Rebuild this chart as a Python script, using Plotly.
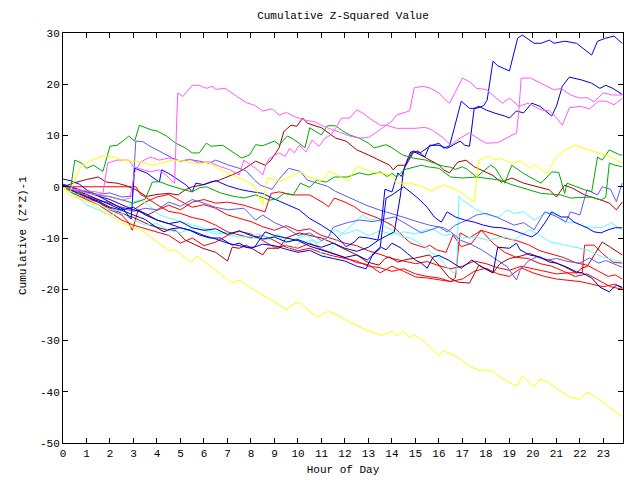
import plotly.graph_objects as go

# ---- data: (hour, cumulative value) pairs ----
hour_ticks = list(range(24))
y_ticks = [-50, -40, -30, -20, -10, 0, 10, 20, 30]

yellow_low = [(0,0),(0.3,-1.6),(1.2,-3.2),(2.5,-7.1),(3.35,-8.5),(4.5,-12.5),(4.75,-12.3),(5.45,-14.7),(5.7,-13.5),(7.2,-18.8),(7.5,-18.2),(7.95,-19.6),(9.5,-23.9),(10,-22.5),(10.8,-25.4),(11.3,-24.3),(11.8,-25.3),(12.1,-26.2),(12.95,-28),(13.55,-29),(14.0,-28.2),(14.2,-29.1),(14.5,-28.2),(14.7,-29.3),(15.0,-29),(15.4,-30.3),(16.0,-32.9),(16.2,-32),(16.7,-33),(17.3,-35),(17.7,-35.8),(18.2,-35.8),(18.8,-37.7),(19.3,-38.9),(19.55,-36.9),(20.05,-39.1),(20.3,-37.5),(20.7,-38.3),(21.5,-40.9),(22.0,-41.5),(22.3,-40),(22.75,-41.3),(23.8,-44.9)]

yellow_up = [(0,0),(0.3,-1),(0.7,3.6),(1.13,5),(1.7,6),(2.2,5.8),(2.5,5.2),(2.9,5),(3.4,4.8),(3.8,4.2),(4.2,4.6),(4.7,5.2),(5.2,5),(5.7,4.4),(6.2,4.8),(6.7,3.3),(7.2,2.3),(7.8,1.1),(8.15,0.1),(8.5,-3.6),(8.7,1.7),(9.3,1.2),(9.7,2),(10.1,3),(10.4,2),(11,1.1),(11.35,3.1),(11.9,1.7),(12.15,1.1),(12.5,4),(12.85,3.4),(13.2,2.8),(13.65,2.6),(13.95,2.3),(14.2,0.7),(14.8,0.7),(15.25,0.1),(15.7,-0.8),(15.9,-0.2),(16.2,0.3),(16.6,-0.3),(17.0,-1.2),(17.2,-2.2),(17.5,-2.9),(17.7,5.2),(18.1,6),(18.4,5.2),(18.6,5.6),(19.1,4.6),(19.5,5),(19.85,3.7),(20.1,4.3),(20.6,2.5),(20.9,5.2),(21.35,7.2),(21.8,8.1),(22.1,7.6),(22.75,6.6),(23.2,6),(23.55,5.2),(23.8,4.6)]

green_a = [(0,0),(0.3,-1),(0.5,5.2),(0.8,4.6),(1.0,3.6),(1.3,4.2),(1.7,3),(2.0,7.9),(2.3,8.1),(2.55,8.9),(2.8,9.9),(3.05,8.9),(3.25,12),(3.5,11.6),(3.75,11.1),(4.0,10.9),(4.4,9.9),(4.8,8.5),(5.2,7.6),(5.5,6.6),(5.8,6.6),(6.1,8.5),(6.3,7.9),(6.8,8.1),(7.1,7.2),(7.6,5.6),(7.94,6.2),(8.2,8.2),(8.5,8.0),(9.0,8.9),(9.2,8.2),(9.55,9.9),(9.8,9.3),(10.3,7.6),(10.5,11.5),(10.8,10.6),(11.0,10.1),(11.25,11.9),(11.6,11.9),(11.9,10.9),(12.2,10.1),(12.6,9.5),(13.0,8.5),(13.25,7.6),(13.75,8.2),(14.0,7.6),(14.45,6.2),(14.9,5.6),(15.45,5.2),(15.8,4.6),(16.2,4.0),(16.5,3.8),(16.7,3.4),(17.0,3.9),(17.2,3.4),(17.6,1.9),(18.2,4.2),(18.4,3.6),(18.8,0.7),(19.1,4.2),(19.6,2.6),(20.1,1.3),(20.35,0.7),(20.8,2.9),(21.1,2.8),(21.35,-1.3),(21.45,0.7),(22.2,-0.6),(22.5,-1),(22.75,5.8),(22.95,5.2),(23.25,7.2),(23.7,6.2),(23.8,6.2)]

green_b = [(0,0),(0.5,-1.5),(1,-0.8),(1.5,-1.6),(2,-1.9),(2.5,-2.6),(3,-3.2),(3.5,-2.4),(3.8,0.9),(4.1,1),(4.5,0.3),(5,-0.4),(5.5,-1),(5.8,-0.2),(6.1,0),(6.7,-1.2),(7.2,-1.8),(7.7,-2.2),(8.2,-1.6),(8.8,-2.6),(9.1,-2.4),(9.4,-1.3),(9.8,-1.6),(10.1,0.7),(10.5,-0.1),(10.8,1.3),(11.2,0.9),(11.55,1.9),(12.1,1.9),(12.6,2.7),(13,2.3),(13.5,2.9),(13.8,2),(14,2.6),(14.2,1.9),(14.5,3.3),(14.9,3.8),(15.25,4.2),(15.5,3.9),(16,3.6),(16.5,1.9),(17,1.7),(17.6,1.9),(18.1,1.6),(18.6,1.3),(19.1,0.4),(19.6,-0.3),(20.35,-1.3),(21.2,-1.6),(21.6,-2.2),(22.5,-2),(22.9,-2.6),(23.1,-2),(23.25,4.6),(23.5,4.2),(23.8,3.9)]

magenta_a = [(0,0),(0.5,-0.5),(1,-0.8),(1.4,-1.0),(1.7,-1.3),(1.9,4.6),(2.3,5.2),(2.8,5.2),(3.0,3.9),(3.4,3.3),(3.7,2.9),(4.1,3.3),(4.4,2.2),(4.75,0.7),(4.88,18.3),(5.1,17.6),(5.3,18.6),(5.5,19.8),(5.8,19.8),(6.1,19.2),(6.35,19.6),(6.5,19.0),(6.9,19.2),(7.2,18.3),(7.5,17.3),(7.8,16.4),(8.15,15.9),(8.5,14.8),(8.9,15.2),(9.2,14.0),(9.5,14.5),(9.9,13.6),(10.3,13),(10.7,12.7),(11.0,12.0),(11.3,11.4),(11.8,10.6),(12.2,9.9),(12.6,9.5),(13.0,9.6),(13.3,10.5),(13.75,12),(14.2,11.4),(14.6,11.4),(15.0,11.4),(15.4,11.6),(15.7,11.1),(16.2,9.5),(16.5,8.1),(16.9,9.5),(17.3,10.5),(17.7,9.3),(18.0,8.5),(18.5,8.6),(18.9,9.5),(19.3,10.5),(19.4,14.8),(19.5,21.2),(19.9,21.2),(20.3,20.2),(20.6,19.6),(20.9,18.9),(21.2,19.2),(21.6,17.9),(22,17.3),(22.3,17.4),(22.6,16.6),(23,18.3),(23.4,17.9),(23.8,17.9)]

magenta_b = [(0,0),(0.5,-0.6),(1,-1.2),(1.5,-1.6),(2,-2.0),(2.5,-2.6),(2.85,-2.2),(3.05,2.8),(3.3,4.8),(3.7,5.8),(4.1,5.2),(4.5,5.6),(5.0,5.0),(5.4,5.4),(5.8,4.6),(6.2,4.9),(6.65,4.0),(7.1,3.3),(7.5,2.3),(7.7,5.2),(8.0,4.2),(8.2,3.6),(8.5,2.3),(8.65,4.5),(8.8,5.6),(9.2,6.6),(9.45,5.9),(9.65,7.5),(9.85,6.6),(10.05,8.1),(10.35,6.8),(10.6,9.1),(10.9,7.9),(11.15,9.5),(11.4,10.1),(11.6,11.4),(11.85,13.4),(12.2,13.4),(12.5,15),(12.75,14.4),(13.1,13.2),(13.5,12),(13.75,12),(14.0,12.8),(14.2,14),(14.5,14.4),(14.75,14.8),(14.95,19.3),(15.3,19.6),(15.6,19.3),(16.0,18.3),(16.2,17.3),(16.45,16.3),(16.7,18.5),(17.0,21.2),(17.3,20.5),(17.6,19.2),(18.0,19.0),(18.4,17.5),(18.7,16.3),(19.0,17.3),(19.4,15.7),(19.8,16.3),(20.35,15),(20.7,14.8),(21.0,13.5),(21.25,12),(21.55,15.4),(22,15.7),(22.4,15.2),(22.8,16.7),(23.1,16.7),(23.45,16),(23.8,17.2)]

blue_top = [(0,1.5),(0.3,1.2),(0.7,0.5),(1,-0.6),(1.5,-1.8),(2.1,-3.2),(2.6,-4.5),(2.8,-5.8),(2.9,-6.3),(3.05,3.6),(3.55,2.7),(4.1,0.9),(4.2,3.3),(4.5,2.6),(4.8,1.7),(5.25,0.3),(5.5,-1),(5.65,0.7),(6.0,0.4),(6.5,1.2),(7.0,0.2),(7.5,-0.5),(7.94,-0.9),(8.5,-1.3),(8.9,-2.2),(9.2,-2.8),(9.6,-3.6),(10.05,-4.5),(10.5,-6.2),(11,-7.5),(11.5,-9),(12.05,-11.7),(12.4,-10.8),(12.6,-9.8),(13,-10),(13.4,-10.4),(13.55,-7.1),(13.7,-0.5),(14,-1.0),(14.25,2.7),(14.4,2.0),(14.65,5),(14.9,7),(15.2,6.6),(15.6,7.9),(16,8.5),(16.2,7.5),(16.45,8.0),(16.65,11.4),(16.95,16.7),(17.3,15.3),(17.6,15.3),(17.9,15.8),(18.05,16.9),(18.3,24.5),(18.5,23.6),(19.0,22.6),(19.1,24.5),(19.35,29),(19.55,29.6),(20.05,28),(20.35,28),(20.7,28.6),(20.9,28),(21.35,28.4),(21.85,28),(22.2,26.7),(22.5,25.7),(22.75,28.4),(23.1,29),(23.45,29.4),(23.75,28.3),(23.8,28.0)]

navy_up = [(0,0.3),(0.5,-0.5),(1,-1.5),(1.5,-2.5),(2,-3.5),(2.5,-4.5),(3,-4.0),(3.5,-5.5),(4,-6.5),(4.5,-7.2),(5,-6.8),(5.5,-8),(6,-8.5),(6.5,-8.2),(7,-9.3),(7.5,-8.6),(8,-9.5),(8.5,-10.2),(9,-9.8),(9.5,-10.8),(10,-10.3),(10.5,-11.2),(11,-11.8),(11.5,-11),(12,-12),(12.5,-12.6),(13,-11.8),(13.4,-10.5),(13.8,-9.5),(14.1,-8.8),(14.35,-2),(14.5,3.3),(14.65,5.2),(14.8,6.8),(14.95,6.8),(15.4,5.8),(15.6,8.1),(16,8.1),(16.35,7.5),(16.9,8.9),(17.1,8.1),(17.3,7.9),(17.5,15.3),(17.7,15.7),(18,15),(18.35,14.4),(18.8,13.8),(19,13.4),(19.3,14.8),(19.6,14.4),(19.95,16.3),(20.3,15.7),(20.8,13.8),(21,15.7),(21.25,19.6),(21.55,21.4),(22.1,20.8),(22.5,20.2),(22.85,19.2),(23.1,19.8),(23.4,19.2),(23.8,18.0)]

blue_mid = [(0,0.5),(0.5,-0.3),(1,-1),(1.5,-1.8),(2,-2.5),(2.5,-3.5),(3,-4.5),(3.5,-5.2),(4,-6.5),(4.5,-7.2),(5,-8),(5.5,-8.6),(6,-9.5),(6.5,-10.2),(7,-11),(7.5,-11.5),(8,-12),(8.5,-11.2),(9,-11.5),(9.5,-12.2),(10,-12.8),(10.5,-12.4),(11,-13.5),(11.5,-14),(12,-14.5),(12.5,-15.5),(12.9,-16),(13.2,-13),(13.5,-11.8),(13.75,-2.2),(14.0,-1.6),(14.5,0),(15.1,-2.2),(15.5,-4),(15.8,-5.9),(16.1,-6.9),(16.35,-4.9),(16.7,-5.9),(17.1,-6.5),(17.5,-6.9),(17.9,-7.5),(18.3,-7.9),(18.65,-8),(19.1,-8.4),(19.5,-9),(19.95,-9.8),(20.2,-9),(20.5,-7.1),(20.8,-4.9),(21.2,-5.9),(21.5,-5.9),(21.75,-6.9),(22.05,-7.5),(22.3,-8),(22.6,-8.8),(22.9,-9),(23.2,-8.4),(23.5,-8),(23.8,-8)]

navy_low = [(0,0),(0.5,-1),(1,-2),(1.5,-2.8),(2,-4),(2.5,-4.6),(3,-5.5),(3.5,-6.4),(4,-8),(4.3,-8.8),(4.6,-8.2),(5,-8),(5.4,-8.5),(5.8,-9.4),(6.25,-10),(6.7,-10),(7.2,-11.4),(7.5,-11),(7.8,-11.8),(8.15,-11.8),(8.6,-8.8),(9,-9.5),(9.5,-10),(10,-10.5),(10.5,-11.6),(11,-12.3),(11.5,-13),(12,-13.8),(12.5,-13.3),(12.95,-14.3),(13.55,-11.8),(13.75,-12.3),(14,-11),(14.4,-12),(14.65,-13),(15,-14.3),(15.25,-14.9),(15.5,-15.9),(15.75,-13.7),(16,-13.4),(16.4,-14.3),(16.95,-15.9),(17.4,-14.3),(17.8,-15.6),(18.3,-16.8),(18.45,-13.3),(18.5,-11.8),(19,-12),(19.3,-11),(19.45,-12.3),(19.85,-13.3),(20.3,-13.7),(20.7,-14.7),(21,-14.9),(21.4,-15.6),(21.85,-16.6),(22.1,-16.8),(22.5,-17.8),(22.85,-19.6),(23.25,-20.5),(23.55,-19.2),(23.8,-19.6)]

darkred_a = [(0,0),(0.5,0.8),(1,1.4),(1.5,1.9),(1.85,0.9),(2.3,0.7),(2.7,0.2),(3.1,-0.6),(3.55,-1.9),(4.0,-1.5),(4.5,-1.3),(4.9,-1.6),(5.2,-0.6),(5.5,0),(5.9,0.3),(6.25,0.9),(6.6,1.2),(7,1.9),(7.4,2.7),(7.65,3.3),(7.94,4.2),(8.2,5),(8.6,4.2),(8.85,5.2),(9.2,7.6),(9.4,10.8),(9.7,12),(9.95,11.8),(10.2,13.4),(10.4,12.4),(11,11.5),(11.3,10.5),(11.6,9.5),(12.05,8.9),(12.5,7.2),(13,6.2),(13.45,5.2),(13.9,4.2),(14.05,3.3),(14.25,4.2),(14.6,4.2),(14.9,6.6),(15.1,7),(15.45,5.6),(15.7,5),(16.0,4.2),(16.2,3.3),(16.45,2.7),(16.8,4.8),(17.15,5.2),(17.5,3.9),(18,2.9),(18.3,2.2),(18.65,0.9),(19.1,1.7),(19.6,0.7),(20.2,0),(20.7,-0.6),(21,-2),(21.35,0.3),(21.7,-0.3),(22.2,-1.6),(22.9,-2.6),(23.25,-3.2),(23.55,-4.5),(23.8,-3.0)]

darkred_b = [(0,0),(0.5,-0.8),(1,-2),(1.5,-3),(2,-4.2),(2.5,-5.2),(3,-6),(3.25,-6.5),(3.7,-7.5),(4.4,-8.4),(4.8,-8.5),(5.2,-10.4),(5.95,-12),(6.5,-12.8),(7,-14.5),(7.2,-11.8),(7.5,-12),(7.8,-11.4),(8.15,-12.3),(8.5,-13.3),(8.7,-12),(9.2,-12),(9.5,-10),(10.05,-9),(10.5,-9.5),(11,-10),(11.5,-11),(11.9,-12),(12.5,-13.3),(12.95,-14.7),(13.45,-15.3),(13.7,-14),(13.9,-13.7),(14.25,-14.7),(14.6,-14.2),(15,-13.9),(15.6,-13.3),(16,-15.3),(16.45,-17.8),(16.8,-18.6),(17.3,-18.8),(17.7,-15.3),(18.3,-16.8),(18.6,-15),(19,-14),(19.5,-13.5),(19.85,-13),(20.3,-13.8),(20.8,-14.5),(21.3,-15.5),(21.85,-16.8),(22.1,-15.8),(22.3,-15.6),(22.95,-10.8),(23.3,-11.8),(23.8,-13.3)]

slate_a = [(0,0),(0.5,-0.5),(1,-1),(1.5,-1.5),(2,-1.2),(2.5,-2),(2.95,-1.8),(3.1,8.9),(3.4,8.8),(3.7,7.9),(4.0,7.2),(4.3,6.4),(4.65,5.6),(5.0,5.0),(5.4,5.3),(5.8,5),(6.2,4.6),(6.5,5.2),(7,4.3),(7.5,3.6),(7.8,3.1),(8.15,1.3),(8.4,0.3),(8.9,-0.5),(9.2,1.5),(9.6,3.6),(10.1,3),(10.4,1.3),(10.8,0.8),(11.25,0.1),(11.6,-0.9),(12.05,-1.8),(12.5,-2.8),(12.9,-3.6),(13.45,-4.5),(14,-5.2),(14.6,-6.1),(15,-6.7),(15.6,-7.5),(16.2,-8),(16.5,-8.8),(16.9,-10.4),(17.4,-11.3),(17.85,-12.4),(18.4,-14),(18.9,-15.6),(19.3,-18.2),(19.45,-16.3),(19.8,-14.5),(20.15,-13.7),(20.6,-14.3),(21,-14),(21.5,-14.6),(22,-14.9),(22.4,-13.9),(22.8,-14.9),(23.1,-14.4),(23.8,-15.7)]

slate_b = [(0,0),(0.5,-0.8),(1,-2),(1.5,-2.8),(2,-3),(2.5,-4.2),(3,-4.8),(3.5,-4.2),(4,-4.5),(4.5,-3),(5,-3.8),(5.5,-2.5),(6,-3.2),(6.5,-4),(7,-4.5),(7.7,-4.2),(8.2,-6.5),(8.5,-5.5),(9,-7),(9.5,-8),(10,-9.5),(10.5,-9),(11,-10.5),(11.3,-9.8),(11.5,-7.9),(12.1,-7),(12.6,-6.5),(13.2,-6.8),(14.1,-5.9),(14.5,-7),(15.25,-9),(15.6,-8.5),(16,-7.8),(16.35,-8.8),(16.7,-7.5),(17.2,-6.5),(17.6,-5.5),(18,-5.2),(18.5,-6),(19.2,-7.5),(19.6,-7),(20.05,-8.4),(20.35,-5.9),(20.5,-4.9),(21,-5.8),(21.4,-6.9),(21.6,-4.9),(22,-5.5),(22.3,-0.6),(22.75,-1.6),(22.95,0),(23.3,-0.5),(23.55,-2.9),(23.8,0.7)]

cyan_a = [(0,0),(0.5,-1.5),(1,-3.5),(1.5,-4.5),(2,-5.5),(2.5,-5.2),(3,-6.5),(3.5,-7.5),(4,-7.2),(4.5,-8.5),(5,-9),(5.5,-8),(6,-8.5),(6.5,-9.2),(7,-9),(7.2,-9.7),(7.5,-8.5),(8.15,-10),(8.8,-10.4),(9.1,-9.2),(9.7,-12.4),(10.05,-11),(10.7,-10.4),(11.05,-13.7),(11.35,-12.7),(11.75,-9.8),(12.2,-7.8),(12.75,-5.5),(13.1,-6.5),(13.4,-6.2),(13.7,-7.8),(14,-8.4),(14.4,-9.8),(14.8,-10),(15.4,-11.7),(15.7,-12.9),(16,-13.7),(16.3,-15.5),(16.6,-16.8),(16.75,-16.5),(16.85,-1.9),(17,-2.6),(17.3,-3.5),(17.6,-4.5),(18.05,-5.5),(18.55,-5.9),(18.9,-4.5),(19.2,-5.2),(19.6,-4.9),(20.05,-6.5),(20.4,-5.5),(20.7,-4.9),(21.1,-6),(21.45,-6.9),(21.8,-7),(22.2,-7.8),(22.9,-8),(23.35,-7.1),(23.8,-8.4)]

cyan_b = [(0,0),(0.5,-1),(1,-2.2),(1.5,-3.5),(2,-4.4),(2.5,-4.8),(3,-3),(3.3,-2.6),(3.6,-3.4),(4.1,-5.5),(4.5,-6.1),(5,-6.8),(5.5,-7.5),(5.95,-8),(6.25,-8.5),(6.5,-8.8),(7,-9),(7.4,-9.8),(7.94,-9.8),(8.3,-9.2),(8.8,-10),(9.2,-9.5),(9.6,-10.8),(10,-10),(10.4,-9.5),(10.8,-11),(11.2,-10.2),(11.6,-8.5),(12,-9.2),(12.5,-8.4),(13,-9.5),(13.5,-8.6),(14,-9.3),(14.5,-8.8),(15,-9.2),(15.5,-8.3),(15.8,-8.4),(16.2,-9.5),(16.6,-9.2),(17,-10),(17.6,-9.8),(18.05,-10.4),(18.8,-9.8),(19.2,-10.4),(19.85,-8.4),(20.3,-9.5),(20.7,-10.7),(21.4,-11.4),(22.3,-12.3),(22.95,-13.7),(23.4,-14.2),(23.8,-14.7)]

red_a = [(0,0),(0.5,0),(1,0.1),(1.5,0),(2,0),(2.5,0.1),(3.1,0),(3.3,-1.5),(3.5,-2),(4,-3.5),(4.5,-4.8),(5,-5.2),(5.5,-6),(6,-6.5),(6.5,-7.5),(7,-8.8),(7.5,-9.4),(8,-10),(8.5,-9.5),(9,-10.5),(9.5,-11.8),(10,-12.5),(10.5,-12),(11,-12.9),(11.5,-13.5),(12,-14),(12.5,-14.5),(13,-15.5),(13.5,-15.8),(14,-16.5),(14.5,-16),(15,-17),(15.5,-17.5),(16,-17.8),(16.5,-18.5),(17,-18),(17.5,-16.5),(18,-15.9),(18.5,-17),(19,-17.5),(19.5,-15.8),(20,-16.8),(20.5,-17.5),(21,-18),(21.5,-18.3),(22,-18.5),(22.5,-19),(23,-19.5),(23.5,-19),(23.8,-19.8)]

red_b = [(0,0),(0.5,-1),(1,-2.3),(1.5,-3),(2,-4.5),(2.5,-5.5),(2.8,-7),(2.95,-8.5),(3.2,-4.5),(3.6,-5.5),(4,-4.6),(4.5,-3.6),(5,-4.5),(5.5,-3),(6,-2.5),(6.5,-3.2),(7,-3),(7.7,-3.6),(8.1,-4.2),(8.6,-4.9),(8.85,-1.3),(9.2,-1),(9.8,-1.6),(10.5,-1.6),(11.1,-3.2),(11.3,-3.9),(11.55,-2.2),(12,-3),(12.4,-3.9),(12.7,-4.9),(13.4,-6.1),(14,-7.5),(14.5,-9.8),(14.8,-11),(15.4,-11.9),(15.6,-11.4),(15.9,-12.3),(16.3,-12.8),(16.6,-9.4),(16.95,-11.7),(17.4,-11),(17.8,-8.5),(18.3,-9.2),(18.8,-10),(19.3,-10.5),(19.8,-11.3),(20.3,-12.5),(20.8,-13.2),(21.3,-13.8),(21.8,-14.8),(22.3,-15.3),(22.8,-16.5),(23.2,-17.5),(23.5,-17.2),(23.8,-18)]

red_c = [(0,0),(0.5,-0.5),(1,-1.8),(1.5,-2.5),(2,-3.3),(2.5,-4),(3,-4.5),(3.5,-3),(4,-2),(4.5,-1.5),(5,-2.8),(5.5,-4),(6,-3.5),(6.5,-4.2),(7,-5.5),(7.5,-6.2),(8,-6.8),(8.5,-7.8),(9,-8.5),(9.5,-7.6),(10,-8.6),(10.5,-8.2),(11,-9.5),(11.5,-10.2),(12,-11),(12.5,-11.5),(13,-12.5),(13.5,-13.2),(14,-14),(14.5,-14.5),(15,-15),(15.5,-14.6),(16,-15.4),(16.5,-16),(17,-15.5),(17.5,-14.5),(18,-15),(18.5,-15.8),(19,-16.3),(19.5,-15.5),(20,-16),(20.5,-16.5),(21,-17),(21.5,-16.8),(22.1,-16.8),(22.2,-11.4),(22.6,-11.4),(22.95,-13),(23.4,-14.7),(23.8,-14.9)]

red_d = [(0,0),(0.4,-1.2),(1,-2.5),(1.5,-3.5),(2,-5),(2.5,-6.5),(3,-7.5),(3.5,-8.2),(4,-8.8),(4.5,-9.5),(5,-11),(5.5,-10),(6,-11.5),(6.5,-10.8),(7,-9.5),(7.5,-8.7),(8,-9.2),(8.5,-10.5),(9,-11.8),(9.5,-11.5),(10,-12),(10.5,-11),(11,-12.2),(11.5,-13),(12,-13.8),(12.5,-14.8),(13,-15.2),(13.5,-16.8),(14,-15.5),(14.5,-16.5),(15,-17.6),(15.5,-17.8),(16,-18.2),(16.5,-18.5),(16.7,-17.8),(16.9,-9),(17.3,-10),(17.8,-8.5),(18.3,-11),(18.8,-12.8),(19.3,-13.8),(19.8,-14),(20.3,-15),(20.8,-15.5),(21.3,-16.5),(21.8,-17.5),(22.3,-17),(22.8,-18.3),(23.3,-19.5),(23.8,-20)]

# series name, points, colour
series = [
    ("red_a", red_a, "#ff0000"),
    ("red_b", red_b, "#ff0000"),
    ("red_c", red_c, "#ff0000"),
    ("red_d", red_d, "#ff0000"),
    ("darkred_a", darkred_a, "#a80000"),
    ("darkred_b", darkred_b, "#a80000"),
    ("cyan_a", cyan_a, "#5affff"),
    ("cyan_b", cyan_b, "#5affff"),
    ("slate_a", slate_a, "#5a5aff"),
    ("slate_b", slate_b, "#5a5aff"),
    ("navy_low", navy_low, "#0000b8"),
    ("blue_mid", blue_mid, "#0000ff"),
    ("navy_up", navy_up, "#0000b8"),
    ("blue_top", blue_top, "#0000ff"),
    ("green_a", green_a, "#00a800"),
    ("green_b", green_b, "#00a800"),
    ("magenta_a", magenta_a, "#ff5aff"),
    ("magenta_b", magenta_b, "#ff5aff"),
    ("yellow_up", yellow_up, "#ffff00"),
    ("yellow_low", yellow_low, "#ffff00"),
]

FONT = "Liberation Mono"

fig = go.Figure()
for name, pts, color in series:
    fig.add_trace(go.Scatter(
        x=[p[0] for p in pts], y=[p[1] for p in pts],
        mode="lines", name=name, hoverinfo="skip",
        line=dict(color=color, width=1),
    ))

axis_common = dict(
    showgrid=False, zeroline=False, showline=True, mirror="ticks",
    linecolor="black", linewidth=1, ticks="inside", ticklen=5,
    tickcolor="black", tickwidth=1, automargin=False,
    tickfont=dict(family=FONT, size=11, color="black"),
)

fig.update_layout(
    width=640, height=480,
    margin=dict(l=63, r=17, t=33, b=37, pad=0),
    paper_bgcolor="white", plot_bgcolor="white",
    showlegend=False,
    title=dict(text="Cumulative Z-Squared Value", x=343/640, xref="container",
               y=1 - 15/480, yref="container", xanchor="center", yanchor="middle",
               font=dict(family=FONT, size=11, color="black")),
    xaxis=dict(range=[0, 23.833], tickmode="array", tickvals=hour_ticks,
               ticktext=[str(h) for h in hour_ticks],
               title=dict(text="Hour of Day", standoff=6,
                          font=dict(family=FONT, size=11, color="black")),
               **axis_common),
    yaxis=dict(range=[-50, 30], tickmode="array", tickvals=y_ticks,
               ticktext=[str(v) for v in y_ticks], **axis_common),
    annotations=[dict(text="Cumulative (Z*Z)-1", textangle=-90,
                      xref="paper", yref="paper", x=(23 - 63) / 560, y=(443 - 236) / 410,
                      xanchor="center", yanchor="middle", showarrow=False,
                      font=dict(family=FONT, size=11, color="black"))],
)

fig.write_html("out.html")
